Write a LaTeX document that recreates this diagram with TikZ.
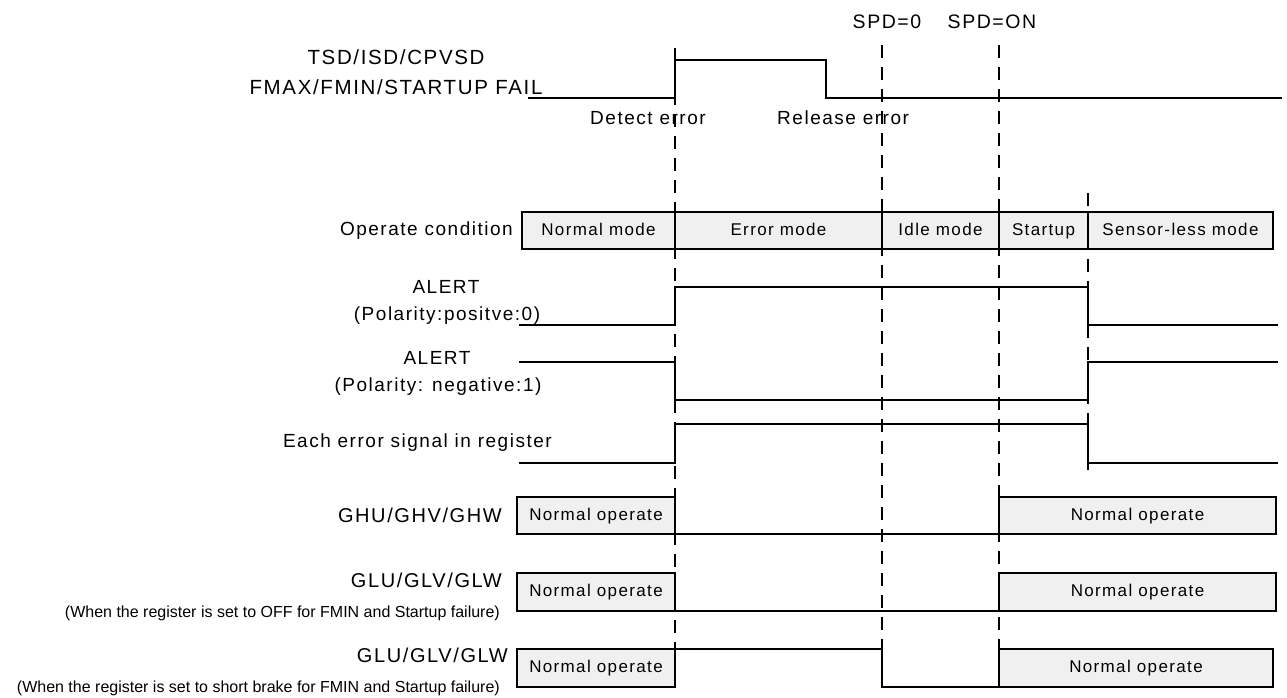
\documentclass[tikz,border=0pt]{standalone}
\usepackage{fontspec}
\setmainfont{Liberation Sans}[LetterSpace=8]
\newfontfamily\subfont{Liberation Sans}
\definecolor{boxgray}{RGB}{240,240,240}
\begin{document}
\begin{tikzpicture}[x=1pt,y=-1pt,
  lbl/.style={inner sep=0pt, font=\fontsize{19}{22}\selectfont},
  biglbl/.style={inner sep=0pt, font=\fontsize{20.5}{24}\selectfont},
  siglbl/.style={inner sep=0pt, font=\fontsize{20}{24}\selectfont},
  sublbl/.style={inner sep=0pt, font=\subfont\fontsize{16}{19}\selectfont},
  sig/.style={line width=1.7pt, line join=miter},
  guide/.style={line width=1.4pt, dash pattern=on 13pt off 9pt},
  modebox/.style={draw, fill=boxgray, line width=1.5pt, inner sep=0pt, outer sep=0pt,
    anchor=north west, font=\fontsize{17}{20}\selectfont, text height=12.5pt, text depth=3.5pt},
]
\useasboundingbox (0,0) rectangle (1287,697);

% ---------- guide (dashed) lines ----------
\coordinate (gA1) at (675,48);  \coordinate (gA2) at (675,649);
\coordinate (gC1) at (882,45);  \coordinate (gC2) at (882,687);
\coordinate (gD1) at (999,45);  \coordinate (gD2) at (999,649);
\coordinate (gE1) at (1088,193); \coordinate (gE2) at (1088,470);
\draw[guide] (gA1) -- (gA2);
\draw[guide] (gC1) -- (gC2);
\draw[guide] (gD1) -- (gD2);
\draw[guide] (gE1) -- (gE2);

% ---------- top labels ----------
\node[lbl, font=\fontsize{19.5}{22}\selectfont] (spd0) at (887,22) {SPD=0};
\node[lbl, font=\fontsize{19.5}{22}\selectfont] (spdon) at (992,22) {SPD=ON};
\node[biglbl] (tsd) at (396,57) {TSD/ISD/CPVSD};
\node[biglbl] (fmax) at (396,87) {FMAX/FMIN/STARTUP FAIL};
\node[lbl, anchor=west] (det) at (590,118) {Detect error};
\node[lbl, anchor=west] (rel) at (777,118) {Release error};

% ---------- error source signal ----------
\coordinate (s0) at (528,98);
\coordinate (s1) at (675,60);
\coordinate (s2) at (826,98);
\coordinate (s3) at (1282,98);
\draw[sig] (s0) -| (s1) -| (s2) -- (s3);

% ---------- operate condition ----------
\node[lbl, anchor=east] (opc) at (513,231) {Operate condition};
\node[modebox, minimum width=153pt, minimum height=37pt] (m1) at (522,212) {Normal mode};
\node[modebox, minimum width=207pt, minimum height=37pt] (m2) at (675,212) {Error mode};
\node[modebox, minimum width=117pt, minimum height=37pt] (m3) at (882,212) {Idle mode};
\node[modebox, minimum width=89pt, minimum height=37pt] (m4) at (999,212) {Startup};
\node[modebox, minimum width=185pt, minimum height=37pt] (m5) at (1088,212) {Sensor-less mode};

% ---------- ALERT positive ----------
\node[lbl] (al1) at (446,287) {ALERT};
\node[lbl] (al1b) at (447,316) {(Polarity:positve:0)};
\coordinate (p0) at (519,325);
\coordinate (p1) at (675,287);
\coordinate (p2) at (1088,325);
\coordinate (p3) at (1278,325);
\draw[sig] (p0) -| (p1) -| (p2) -- (p3);

% ---------- ALERT negative ----------
\node[lbl] (al2) at (437,358) {ALERT};
\node[lbl] (al2b) at (438,387) {(Polarity: negative:1)};
\coordinate (n0) at (519,362);
\coordinate (n1) at (675,400);
\coordinate (n2) at (1088,362);
\coordinate (n3) at (1278,362);
\draw[sig] (n0) -| (n1) -| (n2) -- (n3);

% ---------- each error signal ----------
\node[lbl, anchor=east] (eer) at (552,443) {Each error signal in register};
\coordinate (e0) at (519,463);
\coordinate (e1) at (675,424);
\coordinate (e2) at (1088,463);
\coordinate (e3) at (1278,463);
\draw[sig] (e0) -| (e1) -| (e2) -- (e3);

% ---------- GHU/GHV/GHW ----------
\node[siglbl, anchor=east] (ghu) at (502,515) {GHU/GHV/GHW};
\node[modebox, minimum width=158pt, minimum height=37pt] (h1) at (517,497) {Normal operate};
\node[modebox, minimum width=277pt, minimum height=37pt] (h2) at (999,497) {Normal operate};
\draw[sig] (h1.south east) -- (h2.south west);

% ---------- GLU/GLV/GLW (OFF) ----------
\node[siglbl, anchor=east] (glu1) at (502,580) {GLU/GLV/GLW};
\node[sublbl, anchor=east] (glu1s) at (500,613) {(When the register is set to OFF for FMIN and Startup failure)};
\node[modebox, minimum width=158pt, minimum height=38pt] (l1) at (517,573) {Normal operate};
\node[modebox, minimum width=277pt, minimum height=38pt] (l2) at (999,573) {Normal operate};
\draw[sig] (l1.south east) -- (l2.south west);

% ---------- GLU/GLV/GLW (short brake) ----------
\node[siglbl, anchor=east] (glu2) at (508,655) {GLU/GLV/GLW};
\node[sublbl, anchor=east] (glu2s) at (500,688) {(When the register is set to short brake for FMIN and Startup failure)};
\node[modebox, minimum width=158pt, minimum height=38pt] (b1) at (517,649) {Normal operate};
\node[modebox, minimum width=274pt, minimum height=38pt] (b2) at (999,649) {Normal operate};
\coordinate (bc) at (882,687);
\draw[sig] (b1.north east) -| (bc) -- (b2.south west);
\end{tikzpicture}
\end{document}
